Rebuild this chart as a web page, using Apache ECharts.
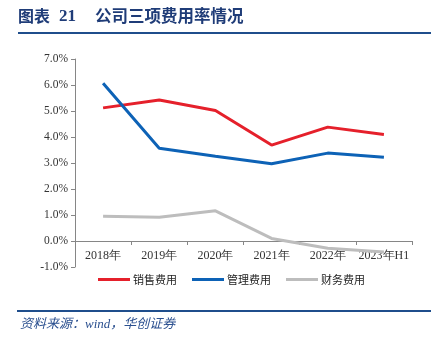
<!DOCTYPE html>
<html><head><meta charset="utf-8">
<script src="https://cdn.jsdelivr.net/npm/echarts@6/dist/echarts.min.js"></script>
<style>html,body{margin:0;padding:0;background:#fff}#c{width:439px;height:347px}</style>
</head><body><div id="c"></div>
<script>
const categories = ['2018年','2019年','2020年','2021年','2022年','2023年H1'];
const salesExp = [5.12, 5.42, 5.02, 3.69, 4.38, 4.10];
const mgmtExp = [6.07, 3.57, 3.26, 2.97, 3.38, 3.22];
const finExp = [0.95, 0.91, 1.16, 0.10, -0.28, -0.42];
const seriesNames = ['销售费用','管理费用','财务费用'];
const yMin = -1, yMax = 7, yStep = 1;

const chart = echarts.init(document.getElementById('c'), null, {renderer:'canvas'});
const axisColor = '#868686';
const serif = '"Liberation Serif","Times New Roman",serif';
chart.setOption({
  animation:false,
  backgroundColor:'#fff',
  grid:{left:75, right:27, top:59, bottom:80, containLabel:false},
  legend:{
    left:93, top:269, itemWidth:32, itemHeight:3, itemGap:15, icon:'rect',
    textStyle:{fontSize:11, color:'#222', fontFamily:'"Noto Sans CJK SC"', padding:[0,0,0,-2]},
    data:seriesNames
  },
  xAxis:{
    type:'category', data:categories, boundaryGap:true,
    axisLine:{onZero:true, lineStyle:{color:axisColor, width:1}},
    axisTick:{show:true, length:4, lineStyle:{color:axisColor}},
    axisLabel:{fontSize:12, color:'#333', fontFamily:serif, margin:-17, interval:0}
  },
  yAxis:{
    type:'value', min:yMin, max:yMax, interval:yStep,
    splitLine:{show:false},
    axisLine:{show:true, lineStyle:{color:axisColor, width:1}},
    axisTick:{show:true, length:4, lineStyle:{color:axisColor}},
    axisLabel:{fontSize:11.5, color:'#333', fontFamily:serif, margin:7,
      formatter:v=>v.toFixed(1)+'%'}
  },
  series:[
    {name:seriesNames[0], type:'line', data:salesExp, symbol:'none', lineStyle:{width:3,color:'#E5202B'}, itemStyle:{color:'#E5202B'}},
    {name:seriesNames[1], type:'line', data:mgmtExp, symbol:'none', lineStyle:{width:3,color:'#0D62B6'}, itemStyle:{color:'#0D62B6'}},
    {name:seriesNames[2], type:'line', data:finExp, symbol:'none', lineStyle:{width:3,color:'#BDBDBD'}, itemStyle:{color:'#BDBDBD'}}
  ],
  graphic:[
    {type:'text', left:18, top:8, style:{text:'图表', fontSize:16, fontWeight:'bold', fill:'#1F3C78', fontFamily:'"Noto Sans CJK SC"'}},
    {type:'text', left:59, top:8, style:{text:'21', fontSize:17, fontWeight:'bold', fill:'#1F3C78', fontFamily:serif}},
    {type:'text', left:95, top:7, style:{text:'公司三项费用率情况', fontSize:16.5, fontWeight:'bold', fill:'#1F3C78', fontFamily:'"Noto Sans CJK SC"'}},
    {type:'rect', shape:{x:18, y:32, width:413, height:2}, style:{fill:'#1F4E8C'}},
    {type:'rect', shape:{x:17, y:310, width:414, height:2}, style:{fill:'#1F4E8C'}},
    {type:'text', left:20, top:318, style:{text:'资料来源：wind，华创证券', fontSize:13, fontStyle:'italic', fill:'#2A4F8F', fontFamily:'"Liberation Serif","Noto Sans CJK SC",serif'}}
  ]
});
</script></body></html>
